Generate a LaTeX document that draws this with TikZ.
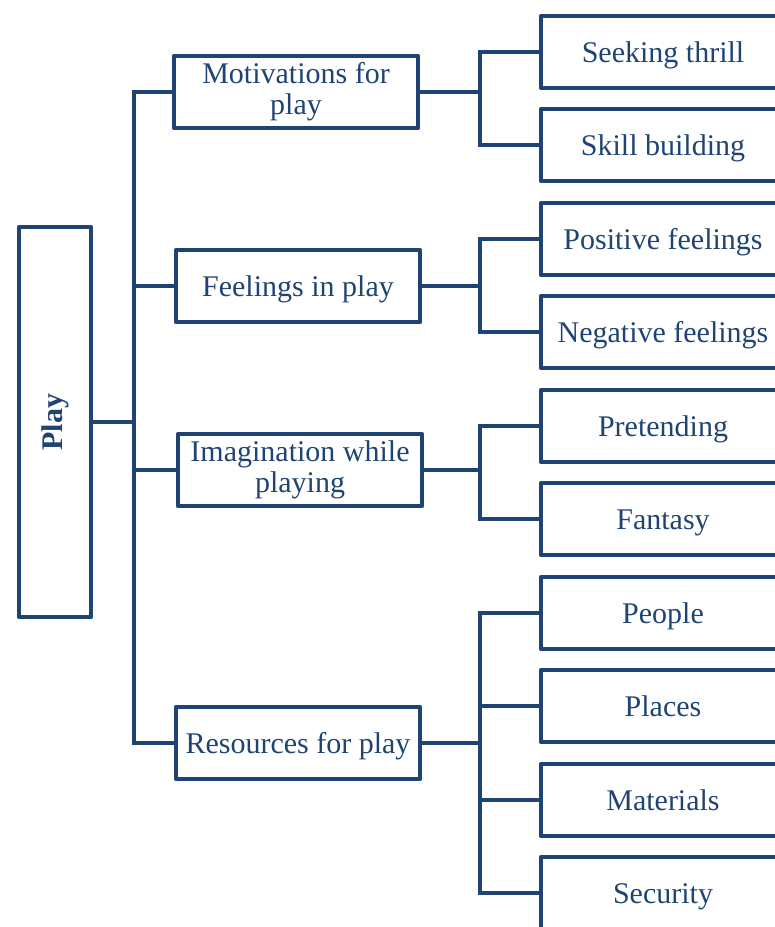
\documentclass[tikz,border=0pt]{standalone}
\usepackage{fontspec}
\setmainfont{Liberation Serif}
\definecolor{navy}{RGB}{31,68,115}
\begin{document}
\begin{tikzpicture}[x=1pt,y=-1pt]
        \tikzstyle{every node}=[draw=navy,line width=4.5pt,line join=round,text=navy,minimum width=244pt,minimum height=72pt,inner sep=0pt,align=center,text height=27pt,text depth=7pt,font=\fontsize{30}{31}\selectfont];
        \tikzstyle{twoline}=[text height={},text depth={}];
        \tikzstyle{conn}=[draw=navy,line width=4pt];
        \useasboundingbox (0,0) rectangle (775,927);
        \clip (0,0) rectangle (775,927);
        %root
        \node (play) at (55,422) [twoline,minimum width=72pt,minimum height=390pt] {\rotatebox{90}{\textbf{Play}}};
        %first level
        \node (motiv) at (296,92) [twoline] {Motivations for\\play};
        \node (feel) at (298,286) {Feelings in play};
        \node (imag) at (300,470) [twoline] {Imagination while\\playing};
        \node (res) at (298,743) {Resources for play};
        %second level
        \node (thrill) at (663,52) {Seeking thrill};
        \node (skill) at (663,145) {Skill building};
        \node (pos) at (663,239) {Positive feelings};
        \node (neg) at (663,332) {Negative feelings};
        \node (pret) at (663,426) {Pretending};
        \node (fant) at (663,519) {Fantasy};
        \node (people) at (663,613) {People};
        \node (places) at (663,706) {Places};
        \node (mater) at (663,800) {Materials};
        \node (secur) at (663,893) {Security};
        %junctions
        \coordinate (tr) at (134,422);
        \coordinate (j1) at (480,92);
        \coordinate (j2) at (480,286);
        \coordinate (j3) at (480,470);
        \coordinate (j4) at (480,743);
        %connectors
        \draw[conn] (play) -- (tr);
        \draw[conn] (tr) |- (motiv);
        \draw[conn] (tr) |- (feel);
        \draw[conn] (tr) |- (imag);
        \draw[conn] (tr) |- (res);
        \draw[conn] (motiv) -- (j1);
        \draw[conn] (j1) |- (thrill);
        \draw[conn] (j1) |- (skill);
        \draw[conn] (feel) -- (j2);
        \draw[conn] (j2) |- (pos);
        \draw[conn] (j2) |- (neg);
        \draw[conn] (imag) -- (j3);
        \draw[conn] (j3) |- (pret);
        \draw[conn] (j3) |- (fant);
        \draw[conn] (res) -- (j4);
        \draw[conn] (j4) |- (people);
        \draw[conn] (j4) |- (places);
        \draw[conn] (j4) |- (mater);
        \draw[conn] (j4) |- (secur);
    \end{tikzpicture}
\end{document}
